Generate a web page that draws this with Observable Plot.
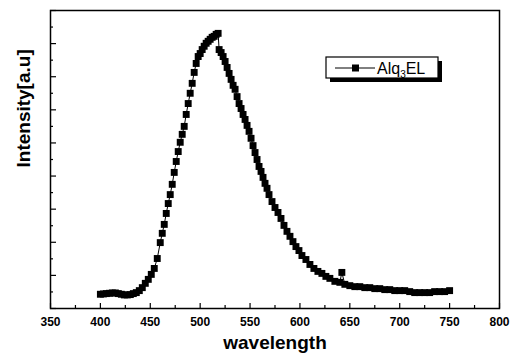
<!DOCTYPE html>
<html>
<head>
<meta charset="utf-8">
<script src="https://cdn.jsdelivr.net/npm/d3@7"></script>
<script src="https://cdn.jsdelivr.net/npm/@observablehq/plot@0.6"></script>
<style>
  html, body { margin: 0; padding: 0; background: #fff; }
  #chart { width: 517px; height: 355px; }
</style>
</head>
<body>
<div id="chart"></div>
<script>
// Alq3 electroluminescence spectrum
const wavelength = [400,403,406,409,412,415,418,421,424,427,430,433,436,439,442,445,448,451,454,457,460,462,464,466,468,470,472,474,476,478,480,482,484,486,488,490,492,494,496,498,500,502,504,506,508,510,512,514,516,518,519,521,523,525,527,529,531,533,535,537,539,541,543,545,547,549,551,553,555,557,559,561,563,565,567,569,572,575,578,581,584,587,590,593,596,599,602,606,610,614,618,622,626,630,635,640,642,645,650,655,660,665,670,675,680,685,690,695,700,705,710,715,720,725,730,735,740,745,750];
const intensity = [0.43,0.44,0.45,0.46,0.47,0.47,0.45,0.43,0.41,0.41,0.42,0.45,0.48,0.54,0.63,0.76,0.88,1.03,1.21,1.51,1.99,2.27,2.54,2.87,3.17,3.44,3.75,4.11,4.44,4.74,5.02,5.26,5.50,5.86,6.19,6.50,6.80,7.13,7.40,7.61,7.70,7.82,7.92,8.01,8.07,8.13,8.19,8.22,8.28,8.31,7.82,7.73,7.61,7.46,7.28,7.10,6.92,6.74,6.62,6.40,6.19,6.04,5.86,5.71,5.53,5.35,5.14,4.92,4.71,4.50,4.29,4.14,3.96,3.78,3.63,3.44,3.23,3.05,2.90,2.72,2.51,2.33,2.18,2.02,1.87,1.75,1.60,1.48,1.33,1.21,1.12,1.06,0.97,0.91,0.82,0.79,1.09,0.73,0.69,0.66,0.66,0.63,0.63,0.60,0.60,0.57,0.57,0.54,0.54,0.54,0.51,0.48,0.48,0.48,0.48,0.51,0.51,0.51,0.54];
const xMajorTicks = [350,400,450,500,550,600,650,700,750,800];
const xMinorTicks = [375,425,475,525,575,625,675,725,775];
const yMajorTicks = [0,1,2,3,4,5,6,7,8,9];
const yMinorTicks = [0.5,1.5,2.5,3.5,4.5,5.5,6.5,7.5,8.5];
const xLabel = "wavelength";
const yLabel = "Intensity[a.u]";
const seriesName = ["Alq", "3", "EL"];

const data = wavelength.map((w, i) => ({w, v: intensity[i]}));

const W = 517, H = 355;
const mL = 50, mR = 18, mT = 10, mB = 47;
const fw = W - mL - mR, fh = H - mT - mB;
const FONT = "'Liberation Sans', Arial, sans-serif";

const chart = Plot.plot({
  width: W, height: H,
  marginLeft: mL, marginRight: mR, marginTop: mT, marginBottom: mB,
  style: {fontFamily: FONT, fontWeight: "bold", background: "#fff", color: "#000"},
  x: {domain: [350, 800], axis: null},
  y: {domain: [0, 9], axis: null},
  marks: [
    Plot.line(data, {x: "w", y: "v", stroke: "#000", strokeWidth: 1}),
    Plot.dot(data, {x: "w", y: "v", symbol: "square", r: 3.9, fill: "#000", stroke: "none"}),
    Plot.tickX(xMajorTicks, {x: d => d, insetTop: fh - 5, stroke: "#000", strokeWidth: 1.2}),
    Plot.tickX(xMinorTicks, {x: d => d, insetTop: fh - 3, stroke: "#000", strokeWidth: 1.2}),
    Plot.tickY(yMajorTicks, {y: d => d, insetRight: fw - 6, stroke: "#000", strokeWidth: 1.2}),
    Plot.tickY(yMinorTicks, {y: d => d, insetRight: fw - 3, stroke: "#000", strokeWidth: 1.2}),
    Plot.frame({stroke: "#000", strokeWidth: 1.5}),
    Plot.axisX({ticks: xMajorTicks, tickSize: 0, tickPadding: 9, fontSize: 12, fontWeight: "bold", tickFormat: d => String(d), label: null}),
    Plot.text([xLabel], {frameAnchor: "bottom", dy: 34, fontSize: 19, fontWeight: "bold", lineAnchor: "middle"}),
    Plot.text([yLabel], {frameAnchor: "left", dx: -27, dy: 8, rotate: -90, fontSize: 19, fontWeight: "bold", lineAnchor: "middle"})
  ]
});

document.getElementById("chart").appendChild(chart);

// legend (line + square marker + label, boxed with drop shadow)
const svg = d3.select(chart);
const lg = svg.append("g").attr("class", "legend");
const bx = 326, by = 57, bw = 112, bh = 21;
lg.append("rect").attr("x", bx + 4).attr("y", by + 4).attr("width", bw).attr("height", bh).attr("fill", "#000");
lg.append("rect").attr("x", bx).attr("y", by).attr("width", bw).attr("height", bh).attr("fill", "#fff").attr("stroke", "#000").attr("stroke-width", 1.2);
lg.append("line").attr("x1", bx + 9).attr("x2", bx + 49).attr("y1", by + 11).attr("y2", by + 11).attr("stroke", "#000").attr("stroke-width", 1);
lg.append("rect").attr("x", bx + 26).attr("y", by + 7.5).attr("width", 7).attr("height", 7).attr("fill", "#000");
const t = lg.append("text").attr("x", bx + 51).attr("y", by + 17).attr("text-anchor", "start")
  .attr("font-family", FONT).attr("font-weight", "normal").attr("font-size", 16).attr("fill", "#000");
t.append("tspan").text(seriesName[0]);
t.append("tspan").attr("font-size", 10).attr("dy", 4).text(seriesName[1]);
t.append("tspan").attr("dy", -4).text(seriesName[2]);
</script>
</body>
</html>
